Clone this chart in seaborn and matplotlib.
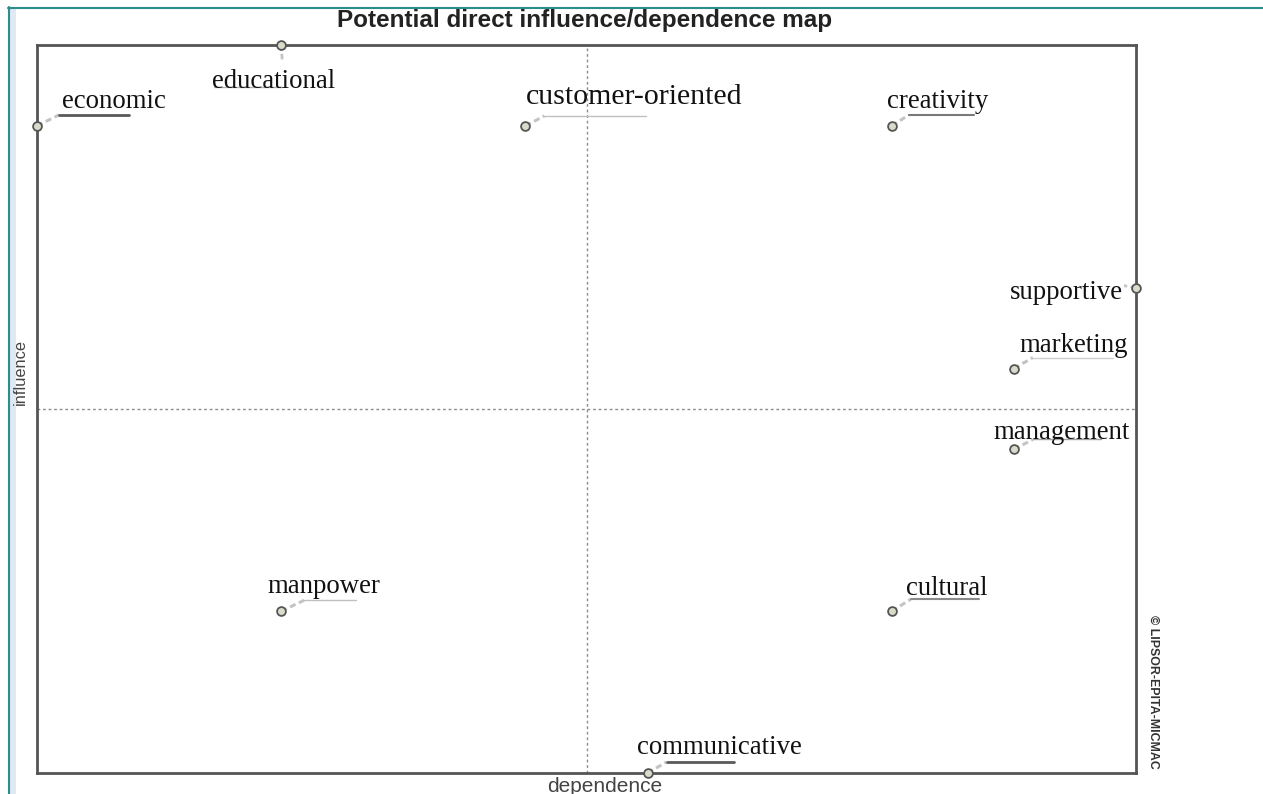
import matplotlib
matplotlib.use("Agg")
import matplotlib.pyplot as plt
import matplotlib.transforms as mtransforms
from matplotlib.lines import Line2D
from matplotlib.patches import Rectangle
import seaborn as sns
import pandas as pd

# ---- data ----
variables = ["economic", "educational", "customer-oriented", "creativity", "supportive",
             "marketing", "management", "manpower", "cultural", "communicative"]
dependence = [0, 2, 4, 7, 9, 8, 8, 2, 7, 5]
influence = [8, 9, 8, 8, 6, 5, 4, 2, 2, 0]
title = "Potential direct influence/dependence map"
x_label = "dependence"
y_label = "influence"
credit = "© LIPSOR-EPITA-MICMAC"

df = pd.DataFrame({"variable": variables, "dependence": dependence, "influence": influence})

# ---- label layout (pixel offsets from the point; y up) ----
layout = {
    "economic":          dict(text=(25, 24, "left", 19.3), lines=[[(0, 0), (22, 11), (92, 11)]], lc="#5a5a5a", lw=2.0),
    "educational":       dict(text=(-69, -37, "left", 19.3), lines=[[(0, 0), (1, -15)], [(-67, -42), (1, -42)]], lc="#b0b0b0", lw=1.0),
    "customer-oriented": dict(text=(0, 29, "left", 21.5), lines=[[(0, 0), (19, 10), (121, 10)]], lc="#c0c0c0", lw=1.0),
    "creativity":        dict(text=(-5, 24, "left", 19.3), lines=[[(0, 0), (17, 11), (82, 11)]], lc="#7a7a7a", lw=1.5),
    "supportive":        dict(text=(-13, -5, "right", 19.3), lines=[[(0, 0), (-12, 2)]], lc="#b0b0b0", lw=1.0),
    "marketing":         dict(text=(6, 23, "left", 19.3), lines=[[(0, 0), (19, 11), (99, 11)]], lc="#cfcfcf", lw=1.0),
    "management":        dict(text=(-20, 17, "left", 19.3), lines=[[(0, 0), (19, 10), (87, 10)]], lc="#a0a0a0", lw=1.0),
    "manpower":          dict(text=(-14, 25, "left", 19.3), lines=[[(0, 0), (23, 11), (75, 11)]], lc="#c0c0c0", lw=1.0),
    "cultural":          dict(text=(14, 23, "left", 19.3), lines=[[(0, 0), (19, 12), (87, 12)]], lc="#8a8a8a", lw=1.5),
    "communicative":     dict(text=(-11, 26, "left", 19.3), lines=[[(0, 0), (19, 11), (86, 11)]], lc="#5a5a5a", lw=2.0),
}

sns.set_style("white")
plt.rcParams["font.family"] = ["Liberation Sans", "DejaVu Sans"]

W, H, DPI = 1263, 794, 100
fig = plt.figure(figsize=(W / DPI, H / DPI), dpi=DPI)
fig.patch.set_facecolor("white")

# screenshot window edges
fig.add_artist(Rectangle((9.5 / W, 0), 6 / W, 1 - 8 / H, transform=fig.transFigure,
                         facecolor="#dfe8f3", edgecolor="none"))
fig.add_artist(Line2D([8.5 / W, 8.5 / W], [0, 1 - 7 / H], transform=fig.transFigure,
                      color="#2a8f8a", lw=1.5))
fig.add_artist(Line2D([8 / W, 1], [1 - 8 / H, 1 - 8 / H], transform=fig.transFigure,
                      color="#2a8f8a", lw=1.5))

ax = fig.add_axes([37 / W, (H - 773) / H, (1136 - 37) / W, (773 - 45) / H])
ax.set_xlim(min(dependence), max(dependence))
ax.set_ylim(min(influence), max(influence))

# quadrant lines
xm = (min(dependence) + max(dependence)) / 2
ym = (min(influence) + max(influence)) / 2
ax.axvline(xm, color="#8c8c8c", lw=1, ls=(0, (2, 2)), zorder=1)
ax.axhline(ym, color="#8c8c8c", lw=1, ls=(0, (2, 2)), zorder=1)

# leaders and labels
for v, x, y in zip(variables, dependence, influence):
    st = layout[v]
    tr = mtransforms.ScaledTranslation(x, y, ax.transData)
    for i, seg in enumerate(st["lines"]):
        xs = [p[0] for p in seg]
        ys = [p[1] for p in seg]
        if len(seg) == 3:
            ax.add_line(Line2D(xs[:2], ys[:2], transform=tr, color="#c4c4c4", lw=2.2,
                               ls=(0, (2, 1.2)), clip_on=False, zorder=3))
            ax.add_line(Line2D(xs[1:], ys[1:], transform=tr, color=st["lc"], lw=st["lw"],
                               clip_on=False, zorder=3))
        else:
            ax.add_line(Line2D(xs, ys, transform=tr, color="#c4c4c4" if i == 0 else st["lc"],
                               lw=2.0 if i == 0 else st["lw"],
                               ls=(0, (2, 1.2)) if i == 0 else "-", clip_on=False, zorder=3))
    dx, dy, ha, fs = st["text"]
    ax.annotate(v, (x, y), xytext=(dx, dy), textcoords="offset pixels", ha=ha, va="center",
                fontsize=fs, family=["Liberation Serif", "DejaVu Serif"], color="#111111",
                annotation_clip=False, zorder=5)

sns.scatterplot(data=df, x="dependence", y="influence", ax=ax, s=40, marker="o",
                color="#d9dccb", edgecolor="#555555", linewidth=1.3, zorder=4, clip_on=False,
                legend=False)

for s in ax.spines.values():
    s.set_visible(True)
    s.set_color("#555555")
    s.set_linewidth(2)
ax.set_xticks([])
ax.set_yticks([])
ax.set_xlabel("")
ax.set_ylabel("")

fig.text(585 / W, 1 - 20 / H, title, ha="center", va="center", fontsize=17.5,
         fontweight="bold", color="#222222")
fig.text(605 / W, 1 - 786 / H, x_label, ha="center", va="center", fontsize=15, color="#444444")
fig.text(20 / W, 1 - 372 / H, y_label, ha="center", va="center", fontsize=11.8,
         color="#444444", rotation=90)
fig.text(1153 / W, 1 - 692 / H, credit, ha="center", va="center", fontsize=8.9,
         fontweight="bold", color="#333333", rotation=-90,
         family=["Liberation Sans Narrow", "Liberation Sans", "DejaVu Sans"])

fig.savefig("out.png", dpi=DPI, facecolor="white")
